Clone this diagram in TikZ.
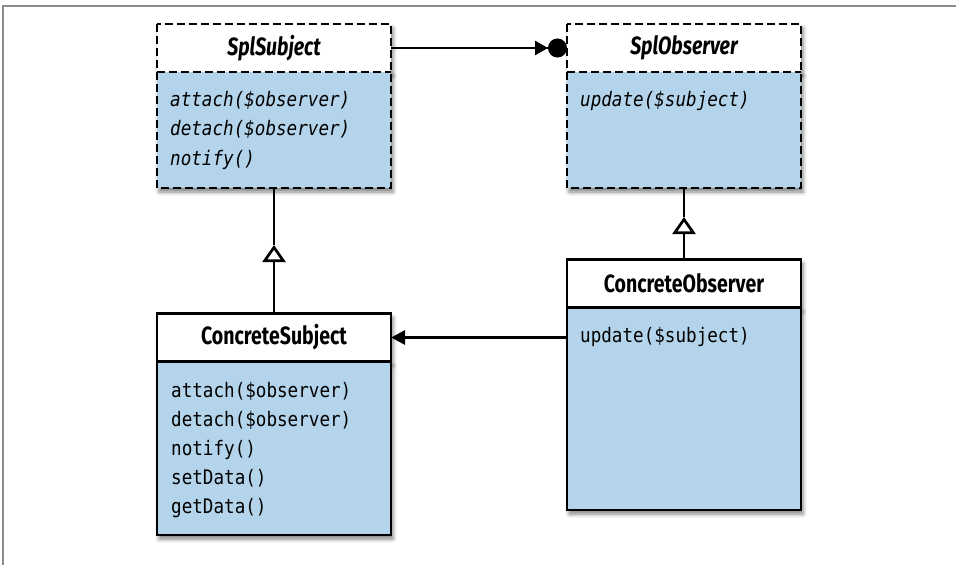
\documentclass[tikz,border=0pt]{standalone}
\usepackage{fontspec}
\newfontfamily\headfont[FakeStretch=0.78]{Fira Sans}
\newfontfamily\methfont[FakeStretch=0.88]{DejaVu Sans Mono}
\usetikzlibrary{arrows.meta,shadows.blur}
\definecolor{bodyblue}{RGB}{179,212,234}
\definecolor{framegray}{RGB}{140,140,140}

\begin{document}
\begin{tikzpicture}[
			x=1pt, y=-1pt,
			box/.style={line width=2.9pt, minimum width=234pt, inner sep=0pt, outer sep=0pt,
				blur shadow={shadow xshift=2pt, shadow yshift=-4pt, shadow blur radius=4pt, shadow opacity=50}},
			head/.style={box, fill=white, minimum height=48pt,
				font=\headfont\fontsize{25}{25}\selectfont\bfseries},
			body/.style={box, fill=bodyblue},
			iface/.style={line width=2.9pt, dash pattern=on 8pt off 4pt},
			methods/.style={anchor=base west, align=left, inner sep=0pt,
				font=\methfont\fontsize{20}{29.5}\selectfont},
			link/.style={line width=2.7pt},
			realize/.style={link, -{Triangle[open, fill=white, length=17pt, width=23pt]}},
			]

			\useasboundingbox (0,0) rectangle (956,565);

			% frame of the figure
			\draw[framegray, line width=1.2pt] (3,565) -- (3,6) -- (956,6);

			% --- Interfaces (dashed) ---
			\node[head] (splSubjHead) at (274,48) {\itshape SplSubject};
			\node[body, minimum height=116pt] (splSubjBody) at (274,130) {};
			\draw[iface] (splSubjHead.north west) rectangle (splSubjBody.south east);
			\draw[iface] (splSubjHead.south west) -- (splSubjHead.south east);
			% base anchor = last line
			\node[methods, font=\methfont\itshape\fontsize{20}{29.5}\selectfont] (splSubjOps) at (170,165)
				{attach(\$observer)\\detach(\$observer)\\notify()};

			\node[head] (splObsHead) at (684,48) {\itshape SplObserver};
			\node[body, minimum height=116pt] (splObsBody) at (684,130) {};
			\draw[iface] (splObsHead.north west) rectangle (splObsBody.south east);
			\draw[iface] (splObsHead.south west) -- (splObsHead.south east);
			\node[methods, font=\methfont\itshape\fontsize{20}{29.5}\selectfont] (splObsOps) at (580,106)
				{update(\$subject)};

			% --- Concrete classes ---
			\node[head, draw] (concSubjHead) at (274,337.5) {ConcreteSubject};
			\node[body, draw, minimum height=173pt] (concSubjBody) at (274,448.5) {};
			\node[methods, font=\methfont\fontsize{20}{28.8}\selectfont] (concSubjOps) at (171,513)
				{attach(\$observer)\\detach(\$observer)\\notify()\\setData()\\getData()};

			\node[head, draw] (concObsHead) at (684,283.5) {ConcreteObserver};
			\node[body, draw, minimum height=202pt] (concObsBody) at (684,409) {};
			\node[methods] (concObsOps) at (580,342) {update(\$subject)};

			% --- Connectors ---
			\coordinate (subjTip) at (274,245);
			\coordinate (obsTip) at (684,217);

			\draw[link, -{Triangle[length=13pt, width=14pt] Circle[length=19pt]}]
				(splSubjHead.east) -- (splObsHead.west);
			\draw[realize] (concSubjHead.north) -- (subjTip);
			\draw[link] (subjTip) -- (splSubjBody.south);
			\draw[realize] (concObsHead.north) -- (obsTip);
			\draw[link] (obsTip) -- (splObsBody.south);
			\draw[link, -{Triangle[length=14pt, width=14pt]}]
				(concObsBody.west |- concSubjHead.east) -- (concSubjHead.east);

		\end{tikzpicture}
\end{document}
